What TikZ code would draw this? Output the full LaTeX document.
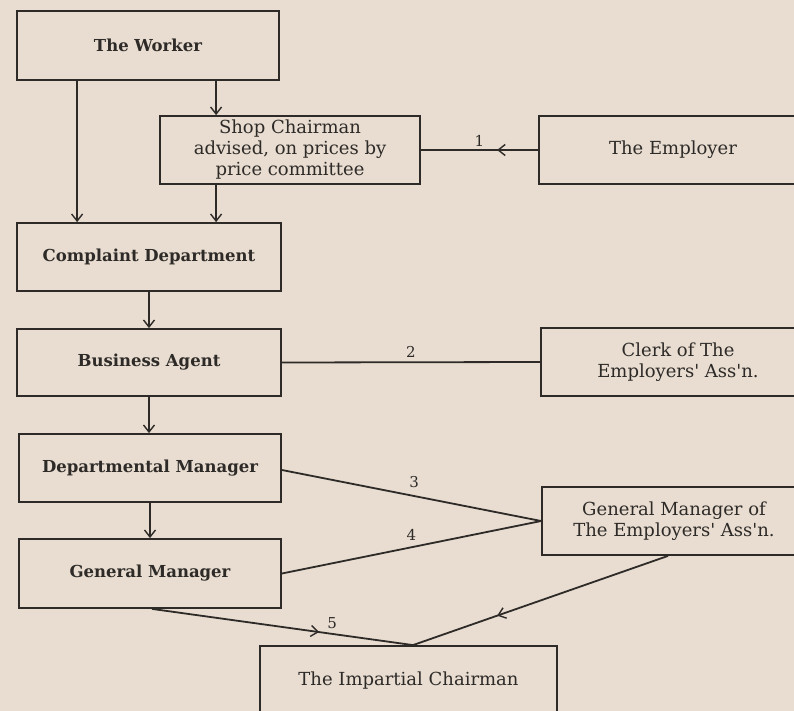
\documentclass[tikz,border=0pt]{standalone}
\usepackage{fontspec}
\setmainfont{DejaVu Serif}
\usetikzlibrary{arrows.meta,decorations.markings}
\definecolor{paper}{RGB}{232,221,208}
\definecolor{ink}{RGB}{45,42,40}
\newcommand{\apos}{\textquotesingle}
\begin{document}
\begin{tikzpicture}[x=1pt,y=-1pt,
  box/.style={draw=ink, line width=1.8pt, rectangle, inner sep=0pt, align=center, text=ink, font=\fontsize{18}{21}\selectfont},
  boxb/.style={box, font=\fontsize{16.5}{21}\selectfont\bfseries},
  conn/.style={draw=ink, line width=1.8pt},
  tip/.style={-{Straight Barb[length=7pt,width=11pt,line width=1.4pt]}},
  midarrow/.style={postaction={decorate}, decoration={markings, mark=at position #1 with {\arrow[line width=1.4pt]{Straight Barb[length=7pt,width=11pt]}}}},
  lbl/.style={text=ink, font=\fontsize{15}{15}\selectfont, inner sep=3pt}]
\fill[paper] (0,0) rectangle (794,711);
\useasboundingbox (0,0) rectangle (794,711);
\clip (0,0) rectangle (794,711);

% boxes
\node[boxb, minimum width=262pt, minimum height=69pt] (worker) at (148,45.5) {The Worker};
\node[box, minimum width=260pt, minimum height=68pt] (shop) at (290,150) {Shop Chairman\\advised, on prices by\\price committee};
\node[box, minimum width=268pt, minimum height=68pt] (employer) at (673,150) {The Employer};
\node[boxb, minimum width=264pt, minimum height=68pt] (complaint) at (149,257) {Complaint Department};
\node[boxb, minimum width=264pt, minimum height=67pt] (business) at (149,362.5) {Business Agent};
\node[box, minimum width=274pt, minimum height=68pt] (clerk) at (678,362) {Clerk of The\\Employers\apos{} Ass\apos{}n.};
\node[boxb, minimum width=262pt, minimum height=68pt] (dept) at (150,468) {Departmental Manager};
\node[boxb, minimum width=262pt, minimum height=69pt] (gm) at (150,573.5) {General Manager};
\node[box, minimum width=264pt, minimum height=68pt] (gme) at (674,521) {General Manager of\\The Employers\apos{} Ass\apos{}n.};
\node[box, minimum width=297pt, minimum height=70pt] (imp) at (408.5,681) {The Impartial Chairman};

% helper coordinates
\coordinate (wl) at ([xshift=61pt]worker.south west);
\coordinate (sr) at ([xshift=57pt]shop.north west);
\coordinate (gmb) at ([xshift=2pt]gm.south);
\coordinate (impt) at ([xshift=4.5pt]imp.north);
\coordinate (gmeb) at ([xshift=-6pt]gme.south);

% connectors
\draw[conn, tip] (wl) -- (wl |- complaint.north);
\draw[conn, tip] (sr |- worker.south) -- (sr);
\draw[conn, tip] (sr |- shop.south) -- (sr |- complaint.north);
\draw[conn, tip] (complaint.south) -- (complaint.south |- business.north);
\draw[conn, tip] (business.south) -- (business.south |- dept.north);
\draw[conn, tip] (dept.south) -- (gm.north);
\draw[conn, midarrow=0.35] (employer.west) -- node[lbl, above] {1} (employer.west -| shop.east);
\draw[conn] (business.east) -- node[lbl, above, yshift=1pt] {2} (clerk.west);
\draw[conn] ([yshift=-2pt]dept.east) -- node[lbl, above right, xshift=-6pt, yshift=4pt] {3} (gme.west);
\draw[conn] (gm.east) -- node[lbl, above, yshift=3pt] {4} (gme.west);
\draw[conn, midarrow=0.64] (gmb) -- node[lbl, pos=0.69, above, yshift=1pt] {5} (impt);
\draw[conn, midarrow=0.67] (gmeb) -- (impt);
\end{tikzpicture}
\end{document}
